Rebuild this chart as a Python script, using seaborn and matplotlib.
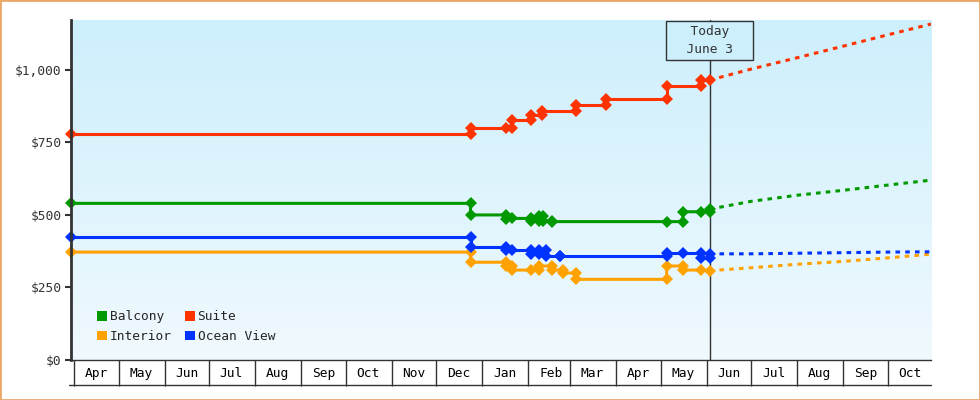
import matplotlib
matplotlib.use("Agg")
import matplotlib.pyplot as plt
import matplotlib.dates as mdates
import matplotlib.transforms as mtransforms
from matplotlib.colors import LinearSegmentedColormap
from matplotlib.patches import Patch, Rectangle
from matplotlib.ticker import FuncFormatter
import seaborn as sns
import numpy as np
import pandas as pd

# price history: each change is recorded twice on the same day (old price, new price)
balcony_dates = ["2022-03-30", "2022-12-24", "2022-12-24", "2023-01-17", "2023-01-17", "2023-01-21",
                 "2023-02-03", "2023-02-03", "2023-02-08", "2023-02-08", "2023-02-11", "2023-02-11",
                 "2023-02-17", "2023-02-17", "2023-05-05", "2023-05-16", "2023-05-16", "2023-05-28",
                 "2023-06-03", "2023-06-03"]
balcony_prices = [540, 540, 500, 500, 486, 488, 488, 480, 480, 498, 498, 480, 480, 477, 477, 477, 511, 511, 511, 520]

interior_dates = ["2022-03-30", "2022-12-24", "2022-12-24", "2023-01-17", "2023-01-17", "2023-01-21",
                  "2023-01-21", "2023-02-03", "2023-02-08", "2023-02-08", "2023-02-17", "2023-02-17",
                  "2023-02-24", "2023-02-24", "2023-03-05", "2023-03-05", "2023-05-05", "2023-05-05",
                  "2023-05-16", "2023-05-16", "2023-05-28", "2023-06-03"]
interior_prices = [372, 372, 337, 337, 325, 325, 310, 310, 310, 324, 324, 310, 310, 300, 300, 278, 278, 324,
                   324, 310, 310, 308]

suite_dates = ["2022-03-30", "2022-12-24", "2022-12-24", "2023-01-17", "2023-01-21", "2023-01-21",
               "2023-02-03", "2023-02-03", "2023-02-10", "2023-02-10", "2023-03-05", "2023-03-05",
               "2023-03-25", "2023-03-25", "2023-05-05", "2023-05-05", "2023-05-28", "2023-05-28",
               "2023-06-03"]
suite_prices = [780, 780, 800, 800, 800, 828, 828, 845, 845, 858, 858, 880, 880, 900, 900, 945, 945, 965, 965]

ocean_dates = ["2022-03-30", "2022-12-24", "2022-12-24", "2023-01-17", "2023-01-17", "2023-01-21",
               "2023-02-03", "2023-02-03", "2023-02-08", "2023-02-08", "2023-02-13", "2023-02-13",
               "2023-02-22", "2023-02-22", "2023-05-05", "2023-05-05", "2023-05-16", "2023-05-28",
               "2023-05-28", "2023-06-03", "2023-06-03"]
ocean_prices = [425, 425, 390, 390, 378, 378, 378, 366, 366, 378, 378, 360, 360, 357, 357, 370, 370, 370,
                352, 352, 366]

# forecast after today
forecast_dates = ["2023-06-03", "2023-07-01", "2023-08-01", "2023-09-01", "2023-10-01", "2023-10-30"]
balcony_forecast = [520, 547, 568, 585, 603, 620]
interior_forecast = [308, 318, 330, 340, 352, 365]
suite_forecast = [965, 1003, 1042, 1082, 1121, 1158]
ocean_forecast = [366, 366, 368, 370, 372, 373]

today = "2023-06-03"
x_start, x_end = "2022-03-30", "2023-10-30"
y_ticks = [0, 250, 500, 750, 1000]

series = [
    ("Balcony", "#009900", balcony_dates, balcony_prices, balcony_forecast),
    ("Interior", "#ffa200", interior_dates, interior_prices, interior_forecast),
    ("Suite", "#ff3300", suite_dates, suite_prices, suite_forecast),
    ("Ocean View", "#0033ff", ocean_dates, ocean_prices, ocean_forecast),
]

sns.set_style("white")
plt.rcParams["font.family"] = ["DejaVu Sans Mono"]
plt.rcParams["font.size"] = 9.3
ink = "#333333"

fig = plt.figure(figsize=(9.8, 4.0), dpi=100)
ax = fig.add_axes([71 / 980, 40 / 400, 860 / 980, 340 / 400])

# gradient background
bg = LinearSegmentedColormap.from_list("bg", ["#cdeffc", "#f0f9fe"])
ax.imshow(np.linspace(0, 1, 256).reshape(-1, 1), cmap=bg, extent=[0, 1, 0, 1],
          transform=ax.transAxes, aspect="auto", zorder=0)

ax.axvline(pd.Timestamp(today), color=ink, lw=1, zorder=1)

for name, col, d, p, fc in series:
    hist = pd.DataFrame({"date": pd.to_datetime(d), "price": p})
    fut = pd.DataFrame({"date": pd.to_datetime(forecast_dates), "price": fc})
    sns.lineplot(data=fut, x="date", y="price", color=col, lw=2.2, estimator=None, sort=False,
                 linestyle=(0, (1.5, 1.7)), ax=ax, zorder=2)
    sns.lineplot(data=hist, x="date", y="price", color=col, lw=2.2, estimator=None, sort=False,
                 marker="D", markersize=5.8, markeredgewidth=0, markeredgecolor=col, ax=ax, zorder=3,
                 clip_on=False)

ax.set_xlim(pd.Timestamp(x_start), pd.Timestamp(x_end))
ax.set_ylim(0, 1172)
ax.set_xlabel("")
ax.set_ylabel("")

ax.set_yticks(y_ticks)
ax.yaxis.set_major_formatter(FuncFormatter(lambda v, _: f"${v:,.0f}"))
ax.tick_params(axis="y", direction="out", length=4, width=1.5, color=ink, labelcolor=ink, pad=3,
               left=True)

# month boxes below the axis
ax.xaxis.set_major_locator(mdates.MonthLocator())
ax.xaxis.set_major_formatter(plt.NullFormatter())
ax.xaxis.set_minor_locator(mdates.MonthLocator(bymonthday=16))
ax.xaxis.set_minor_formatter(mdates.DateFormatter("%b"))
ax.tick_params(axis="x", which="major", direction="out", length=18.5, width=1, color=ink, bottom=True)
ax.tick_params(axis="x", which="minor", length=0, pad=5, labelcolor="black", bottom=True)
ax.plot([-0.002, 1], [-25 / 340] * 2, transform=ax.transAxes, clip_on=False, color=ink, lw=1)

for s in ["top", "right"]:
    ax.spines[s].set_visible(False)
ax.spines["left"].set_linewidth(2)
ax.spines["left"].set_color(ink)
ax.spines["left"].set_zorder(4)
ax.spines["bottom"].set_linewidth(1)
ax.spines["bottom"].set_color(ink)
ax.grid(False)

# today label
tr = mtransforms.blended_transform_factory(ax.transData, ax.transAxes)
ax.text(pd.Timestamp(today), 1 - 20.3 / 340, "  Today  \n  June 3  ", transform=tr, ha="center",
        va="center", multialignment="center", linespacing=1.45, color=ink, zorder=5,
        bbox=dict(boxstyle="square,pad=0.35", fc="#cdeffc", ec=ink, lw=1))

handles = [Patch(facecolor=col, edgecolor="none", label=name) for name, col, *_ in series]
ax.legend(handles=handles, ncol=2, loc="lower left", bbox_to_anchor=(0.024, 0.035), frameon=False,
          handlelength=0.8, handleheight=0.8, handletextpad=0.2, columnspacing=1.0, labelspacing=0.5,
          borderaxespad=0)

fig.patches.append(Rectangle((0, 0), 1, 1, transform=fig.transFigure, fill=False,
                             edgecolor="#eaa868", lw=2))

fig.savefig("out.png", dpi=100)
